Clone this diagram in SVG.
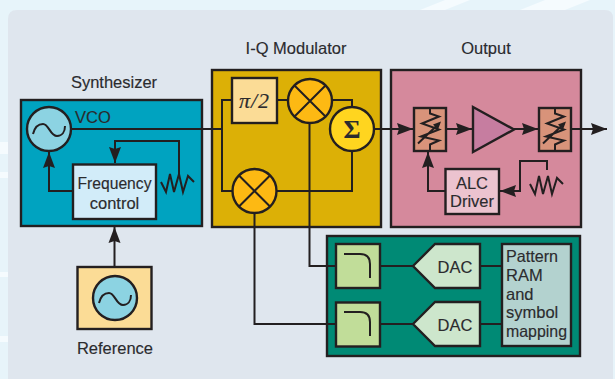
<svg xmlns="http://www.w3.org/2000/svg" width="615" height="379" viewBox="0 0 615 379">
<style>
.b{stroke:#231f20;stroke-width:2.4}
.s{fill:none;stroke:#231f20;stroke-width:2;stroke-linejoin:miter}
.c{fill:none;stroke:#231f20;stroke-width:2}
.a{marker-end:url(#arr)}
text{font-family:"Liberation Sans",Arial,sans-serif;font-size:16.500px;fill:#2b2b2e;stroke:#2b2b2e;stroke-width:0.15}
.m{text-anchor:middle}
</style>
<defs>
<marker id="arr" markerUnits="userSpaceOnUse" markerWidth="18" markerHeight="14" viewBox="0 0 18 14" refX="16" refY="7" orient="auto">
<path d="M0,1 L16,7 L0,13 L2,7Z" fill="#231f20"/>
</marker>
<path id="sine" class="s" d="M-16,5 C-14,-3 -10,-5 -6,-5 C0,-5 1,7 8,7 C13,7 16,3 16,-3"/>
<g id="mix"><circle r="22" fill="#fdb913" class="b"/><path class="s" d="M-15.500,-15.500 L15.500,15.500 M-15.500,15.500 L15.500,-15.500"/></g>
<g id="att"><rect x="-16" y="-21.500" width="32" height="43" fill="#d8937a" class="b"/><path class="s" d="M0,-21 V-16 L9,-13 L-8,-6 L9,0 L-9,7 L9,11 L0,15 V21 M-12,14 L9,-6"/><path d="M11,-8 L3,-5 L8,0Z" fill="#231f20"/></g>
<path id="res" class="s" d="M0,0 L5,10 L9,-8 L13,10 L18,-8 L22,10 L27,-6 L33,0"/>
<path id="flt" class="s" d="M8,10 H24 Q34,10 34,20 V34"/>
<path id="dacs" class="b" fill="#cde6cc" d="M-67,0 L-45,-22 H0 V22 H-45Z"/>
</defs>
<rect width="615" height="379" fill="#e7f4fa"/>
<g fill="#f5fbfe"><path d="M420,10 L445,0 H470 L445,10Z"/><path d="M520,10 L545,0 H590 L565,10Z"/><rect x="0" y="142" width="8" height="12"/><rect x="0" y="172" width="8" height="6"/><rect x="0" y="272" width="8" height="5"/><rect x="0" y="336" width="8" height="6"/></g>
<path d="M8,379 V19 Q8,10 17,10 H605 Q613,10 613,18 V379Z" fill="#dfe6ee"/>

<g id="synthesizer-box"><rect x="21" y="100" width="181" height="126" fill="#00a3c0" class="b"/><text x="114" y="88" class="m">Synthesizer</text></g>
<g id="modulator-box"><rect x="212" y="70" width="169" height="157" fill="#dcb006" class="b"/><text x="296" y="54" class="m">I-Q Modulator</text></g>
<g id="output-box"><rect x="391" y="70" width="190" height="157" fill="#d5899c" class="b"/><text x="486" y="54" class="m">Output</text></g>
<g id="baseband-box"><rect x="327" y="236" width="253" height="120" fill="#008a75" class="b"/></g>

<g id="connectors">
<path class="c" d="M70,129 H222"/>
<path class="c" d="M232,100 H222 V191 H233"/>
<path class="c" d="M277,100 H289"/>
<path class="c" d="M331,100 H352 V108"/>
<path class="c" d="M275,191 H352 V150"/>
<path class="c" d="M309.500,122 V266 H336"/>
<path class="c" d="M254.500,212 V324 H336"/>
<path class="c a" d="M373,129 H413"/>
<path class="c a" d="M446,129 H472"/>
<path class="c a" d="M514,129 H538"/>
<path class="c a" d="M571,129 H607"/>
<path class="c a" d="M73,191 H49 V152"/>
<path class="c a" d="M179,174 V141 H115 V163"/>
<path class="c a" d="M114.500,267 V227"/>
<path class="c a" d="M445,191 H428 V152"/>
<path class="c a" d="M547,170 V161 H520 V191 H500"/>
<path class="c" d="M380,266 H414 M480,266 H502 M380,324 H414 M480,324 H502"/>
</g>

<g id="vco"><circle cx="49" cy="129" r="22" fill="#8cd3e2" class="b"/><use href="#sine" x="49" y="129"/><text x="75" y="123">VCO</text></g>
<g id="frequency-control"><rect x="73" y="164.500" width="83" height="54.500" fill="#d2ecf9" class="b"/><text x="114.500" y="189" class="m" textLength="74" lengthAdjust="spacingAndGlyphs">Frequency</text><text x="114.500" y="209" class="m">control</text></g>
<g id="synth-resistor"><use href="#res" x="161" y="182"/></g>
<g id="reference"><rect x="77.500" y="267" width="74" height="62" fill="#fbdc96" class="b"/><circle cx="115" cy="298" r="22" fill="#8cd3e2" class="b"/><use href="#sine" x="115" y="298"/><text x="115" y="354" class="m">Reference</text></g>
<g id="phase-shift"><rect x="232" y="78" width="45" height="45" fill="#fbdc96" class="b"/><text x="254.500" y="108" class="m" style="font-family:'Liberation Serif',serif;font-style:italic;font-size:22px;letter-spacing:1px">π/2</text></g>
<g id="mixer-i"><use href="#mix" x="310" y="101"/></g>
<g id="mixer-q"><use href="#mix" x="254.500" y="191"/></g>
<g id="summer"><circle cx="352" cy="129" r="22" fill="#ffd51f" class="b"/><text x="352" y="138" class="m" style="font-family:'Liberation Serif',serif;font-weight:bold;font-size:26px">Σ</text></g>
<g id="attenuator-1"><use href="#att" x="430" y="129.500"/></g>
<g id="amplifier"><path d="M473,107 L514,129.500 L473,152Z" fill="#c67da0" class="b"/></g>
<g id="attenuator-2"><use href="#att" x="555" y="129.500"/></g>
<g id="alc-driver"><rect x="445.500" y="169" width="53.500" height="45" fill="#ecc3cf" class="b"/><text x="472" y="189" class="m">ALC</text><text x="472" y="207" class="m">Driver</text></g>
<g id="output-resistor"><use href="#res" x="530" y="184"/></g>
<g id="filter-1"><rect x="336" y="244" width="44" height="44" fill="#c1dd99" class="b"/><use href="#flt" x="336" y="244"/></g>
<g id="filter-2"><rect x="336" y="302.500" width="44" height="44" fill="#c1dd99" class="b"/><use href="#flt" x="336" y="302"/></g>
<g id="dac-1"><use href="#dacs" x="480" y="266"/><text x="455" y="273" class="m">DAC</text></g>
<g id="dac-2"><use href="#dacs" x="480" y="324"/><text x="455" y="331" class="m">DAC</text></g>
<g id="pattern-ram"><rect x="502" y="244" width="69" height="102" fill="#b3d2cf" class="b"/>
<text x="506" y="262" textLength="52" lengthAdjust="spacingAndGlyphs">Pattern</text><text x="506" y="281">RAM</text><text x="506" y="300">and</text><text x="506" y="318">symbol</text><text x="506" y="337" textLength="61" lengthAdjust="spacingAndGlyphs">mapping</text></g>
</svg>
